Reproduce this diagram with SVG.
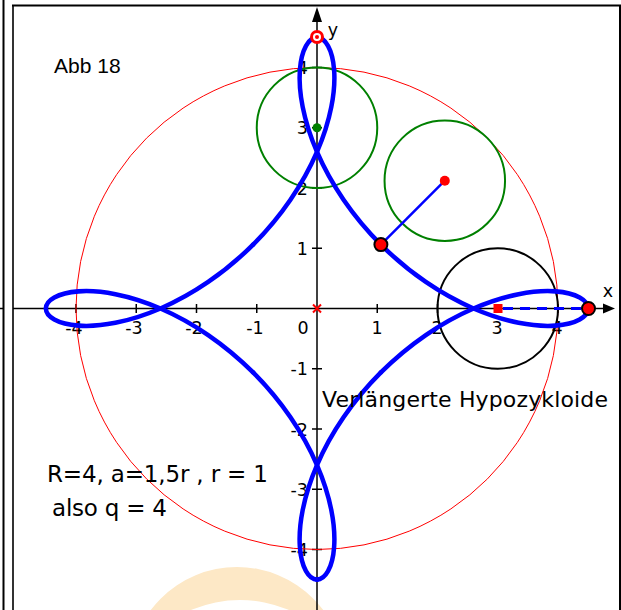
<svg xmlns="http://www.w3.org/2000/svg" width="621" height="610" viewBox="0 0 621 610">
<style>
.lbl{font-family:"DejaVu Sans","Liberation Sans",sans-serif;font-size:17.5px;fill:#000}
.big{font-family:"DejaVu Sans","Liberation Sans",sans-serif;fill:#000}
.tick{stroke:#000;stroke-width:1.5}
.pt{fill:#ff0000;stroke:#000;stroke-width:2}
</style>
<defs>
<path id="arc" d="M4.5 0C4.5 -0.06545 4.45238 -0.130824 4.360155 -0.182447C4.26793 -0.23407 4.131157 -0.271802 3.958438 -0.284203C3.785719 -0.296604 3.57716 -0.283567 3.345665 -0.237771C3.11417 -0.191975 2.859874 -0.113362 2.598076 0C2.336278 0.113362 2.067124 0.261475 1.806035 0.440464C1.544946 0.619453 1.292059 0.829261 1.06066 1.06066"/>
</defs>
<rect width="621" height="610" fill="#fff"/>
<g id="watermark">
<path d="M129 675A108 108 0 0 1 345 675L345 610L129 610Z M115 725A125 125 0 0 1 365 725Z" fill="#fde8c6" fill-rule="evenodd"/>
</g>
<g id="frame" stroke="#000" stroke-width="2" fill="none">
<line x1="3.5" y1="0" x2="3.5" y2="610"/>
<line x1="13" y1="5" x2="13" y2="610" stroke="#333"/>
<line x1="12" y1="5.5" x2="621" y2="5.5"/>
<line x1="620" y1="5" x2="620" y2="610"/>
</g>
<g id="axes">
<line x1="0" y1="308.5" x2="4" y2="308.5" stroke="#000" stroke-width="1.5"/>
<line x1="13" y1="308.5" x2="605" y2="308.5" stroke="#000" stroke-width="1.5"/>
<polygon points="615,308.5 603,303.5 603,313.5" fill="#000"/>
<line x1="317" y1="610" x2="317" y2="20" stroke="#000" stroke-width="1.5"/>
<polygon points="317,7 312,22 322,22" fill="#000"/>
<g class="tick">
<line x1="76" y1="304" x2="76" y2="313"/>
<line x1="136.25" y1="304" x2="136.25" y2="313"/>
<line x1="196.5" y1="304" x2="196.5" y2="313"/>
<line x1="256.75" y1="304" x2="256.75" y2="313"/>
<line x1="377.25" y1="304" x2="377.25" y2="313"/>
<line x1="437.5" y1="304" x2="437.5" y2="313"/>
<line x1="497.75" y1="304" x2="497.75" y2="313"/>
<line x1="558" y1="304" x2="558" y2="313"/>
<line x1="312" y1="67.5" x2="322" y2="67.5"/>
<line x1="312" y1="127.75" x2="322" y2="127.75"/>
<line x1="312" y1="188" x2="322" y2="188"/>
<line x1="312" y1="248.25" x2="322" y2="248.25"/>
<line x1="312" y1="368.75" x2="322" y2="368.75"/>
<line x1="312" y1="429" x2="322" y2="429"/>
<line x1="312" y1="489.25" x2="322" y2="489.25"/>
<line x1="312" y1="549.5" x2="322" y2="549.5"/>
</g>
<g class="lbl" text-anchor="middle">
<text x="74" y="334">-4</text>
<text x="134" y="334">-3</text>
<text x="194" y="334">-2</text>
<text x="255" y="334">-1</text>
<text x="303" y="334">0</text>
<text x="377" y="334">1</text>
<text x="437" y="334">2</text>
<text x="497" y="334">3</text>
<text x="557" y="334">4</text>
</g>
<g class="lbl" text-anchor="end">
<text x="308" y="74">4</text>
<text x="308" y="134">3</text>
<text x="308" y="194.5">2</text>
<text x="308" y="254.75">1</text>
<text x="308" y="375">-1</text>
<text x="308" y="435.5">-2</text>
<text x="308" y="495.75">-3</text>
<text x="308" y="556">-4</text>
</g>
<text class="lbl" x="608" y="297" text-anchor="middle">x</text>
<text class="lbl" x="333" y="36" text-anchor="middle">y</text>
</g>
<g id="circles" fill="none">
<circle cx="317" cy="308.5" r="241" stroke="#ff0000" stroke-width="1"/>
<circle cx="317" cy="127.75" r="60.25" stroke="#008000" stroke-width="2"/>
<circle cx="444.8" cy="180.7" r="60.25" stroke="#008000" stroke-width="2"/>
<circle cx="497.75" cy="308.5" r="60.25" stroke="#000" stroke-width="2"/>
</g>
<g id="connectors">
<line x1="444.8" y1="180.7" x2="380.9" y2="244.6" stroke="#0000ff" stroke-width="2.5"/>
<line x1="503" y1="308.5" x2="582" y2="308.5" stroke="#0000ff" stroke-width="3" stroke-dasharray="10 7"/>
</g>
<g id="curve" transform="translate(317 308.5) scale(60.25 -60.25)" fill="none" stroke="#0000ff" stroke-width="0.075" stroke-linecap="round">
<use href="#arc"/>
<use href="#arc" transform="matrix(1 0 0 -1 0 0)"/>
<use href="#arc" transform="matrix(0 1 1 0 0 0)"/>
<use href="#arc" transform="matrix(0 -1 -1 0 0 0)"/>
<use href="#arc" transform="matrix(-1 0 0 1 0 0)"/>
<use href="#arc" transform="matrix(0 1 -1 0 0 0)"/>
<use href="#arc" transform="matrix(-1 0 0 -1 0 0)"/>
<use href="#arc" transform="matrix(0 -1 1 0 0 0)"/>
</g>
<g id="points">
<circle cx="317" cy="127.75" r="4.5" fill="#008000"/>
<circle cx="444.8" cy="180.7" r="5" fill="#ff0000"/>
<circle class="pt" cx="380.9" cy="244.6" r="6.5"/>
<circle class="pt" cx="588.5" cy="308.5" r="6.5"/>
<rect x="493.5" y="304" width="9" height="9" fill="#ff0000"/>
<circle cx="317" cy="37" r="5.5" fill="#fff" stroke="#ff0000" stroke-width="3"/>
<circle cx="317" cy="37" r="2" fill="#ff0000"/>
<path d="M313 304.5L321 312.5M321 304.5L313 312.5" stroke="#ff0000" stroke-width="2"/>
</g>
<g id="texts">
<text x="54" y="73" font-family="'Liberation Sans',Arial,sans-serif" font-size="21" fill="#000">Abb 18</text>
<text class="big" x="322" y="407" font-size="22" textLength="286">Verlängerte Hypozykloide</text>
<text class="big" x="47" y="482" font-size="23" textLength="221">R=4, a=1,5r , r = 1</text>
<text class="big" x="52" y="516" font-size="23" textLength="115">also q = 4</text>
</g>
</svg>
